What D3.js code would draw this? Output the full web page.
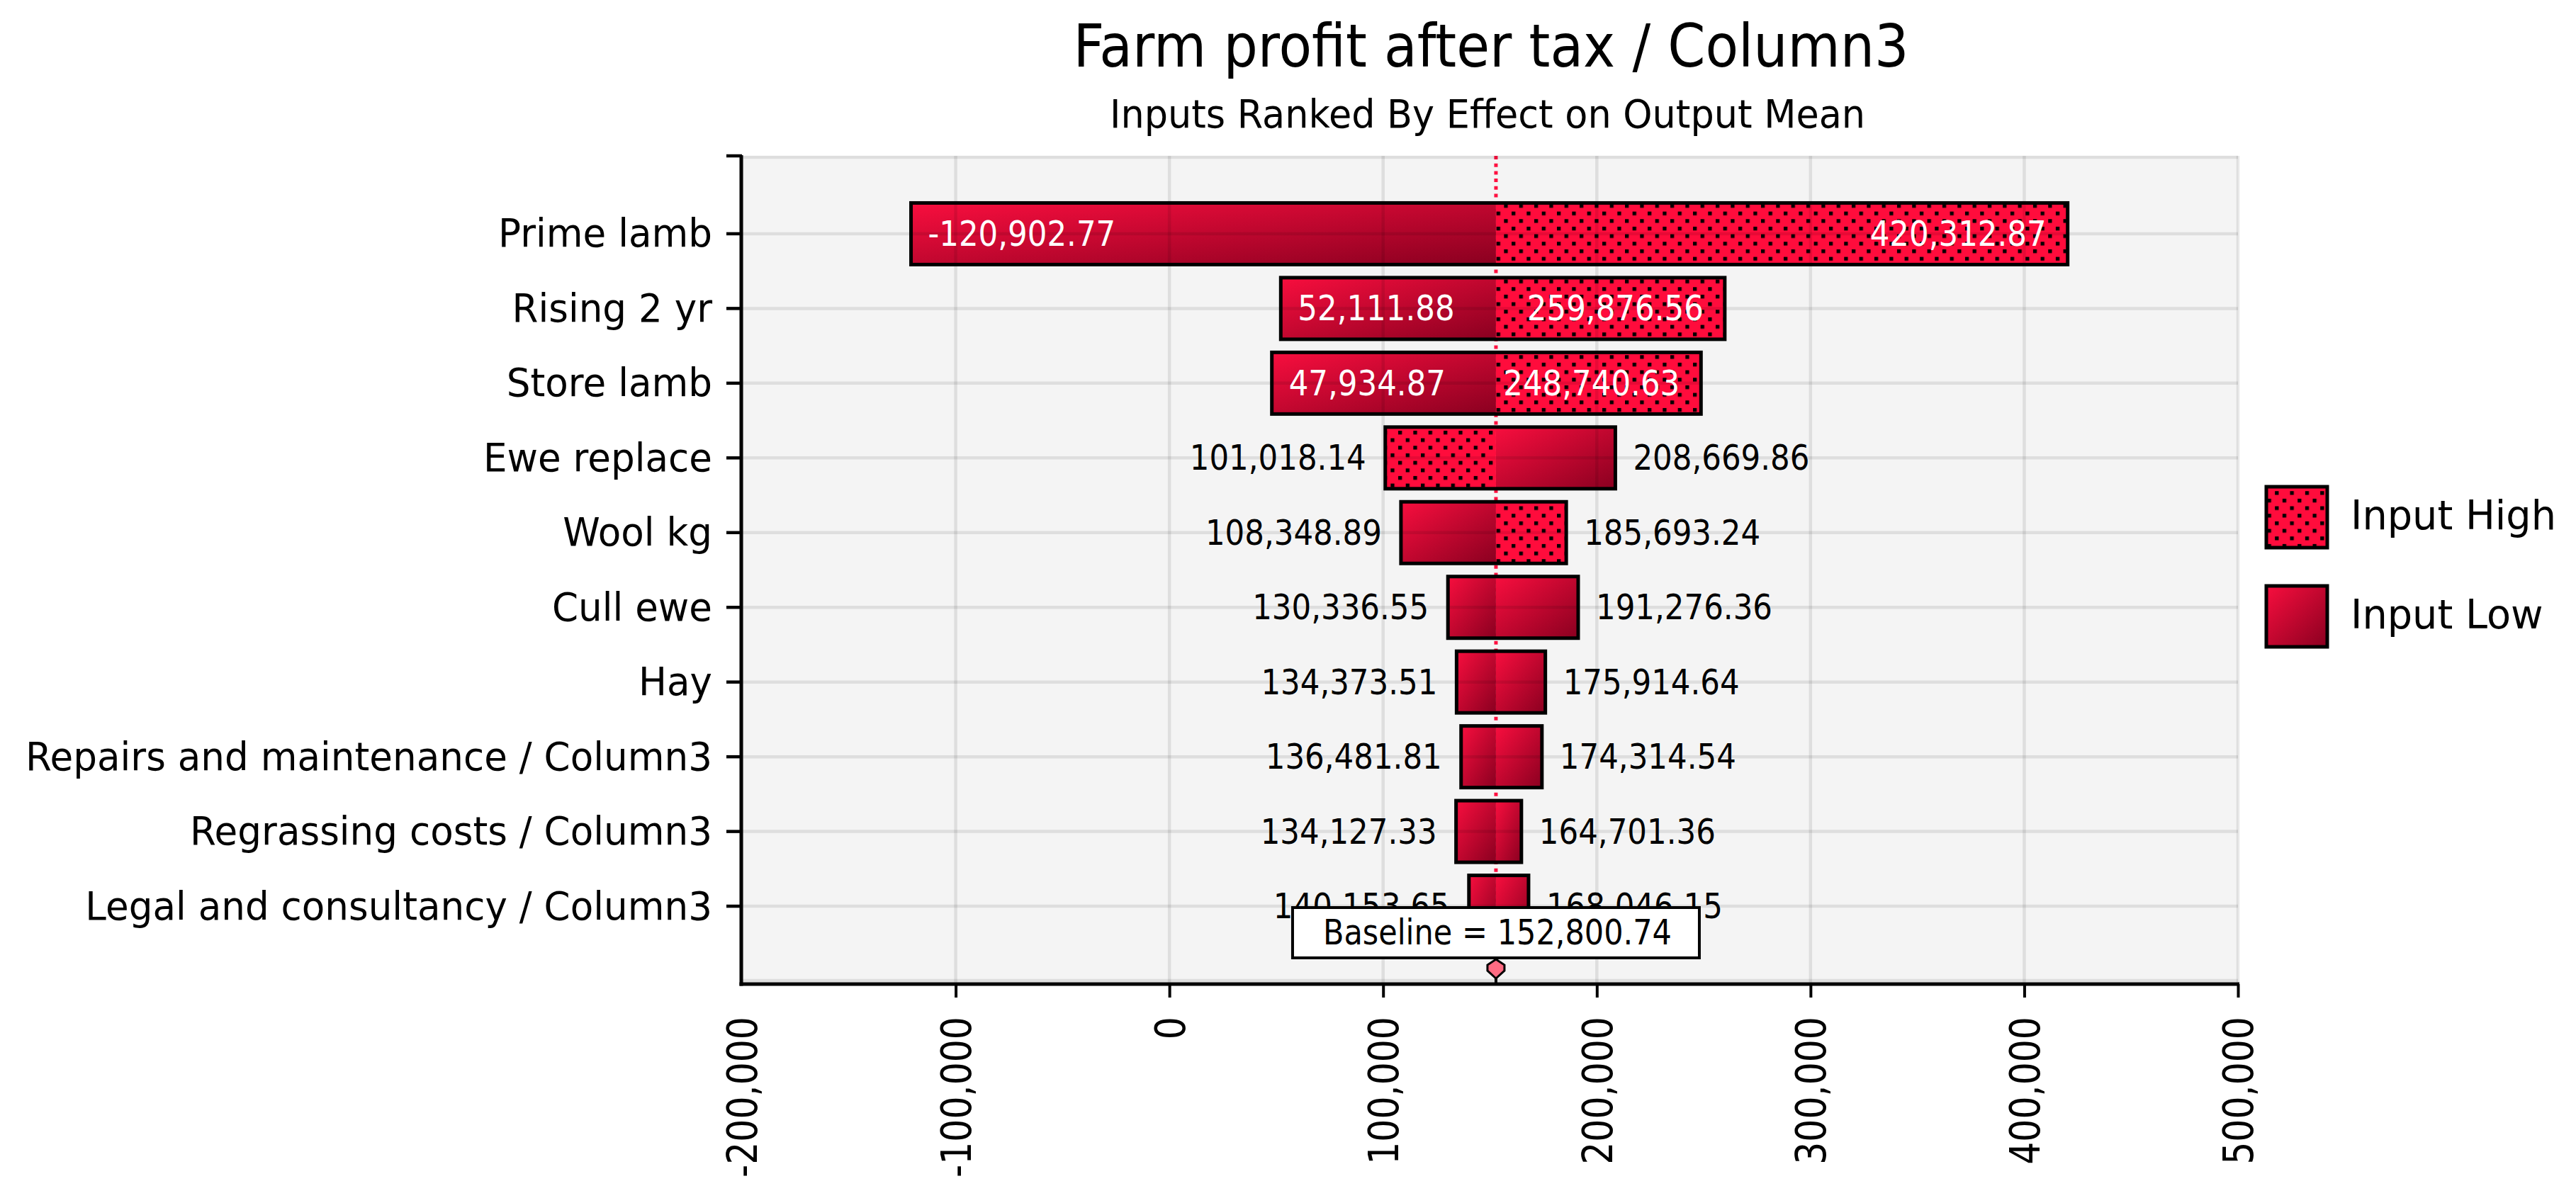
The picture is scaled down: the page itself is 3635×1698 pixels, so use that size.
<!DOCTYPE html>
<html><head><meta charset="utf-8">
<script src="https://cdn.jsdelivr.net/npm/d3@7"></script>
<style>html,body{margin:0;padding:0;background:#fff;} svg{display:block;}</style>
</head><body>
<svg id="chart" width="3635" height="1698"></svg>
<script>
// ---------------- data ----------------
const categories = ["Prime lamb","Rising 2 yr","Store lamb","Ewe replace","Wool kg","Cull ewe","Hay",
  "Repairs and maintenance / Column3","Regrassing costs / Column3","Legal and consultancy / Column3"];
const leftValues  = [-120902.77, 52111.88, 47934.87, 101018.14, 108348.89, 130336.55, 134373.51, 136481.81, 134127.33, 140153.65];
const rightValues = [ 420312.87, 259876.56, 248740.63, 208669.86, 185693.24, 191276.36, 175914.64, 174314.54, 164701.36, 168046.15];
const dottedSide  = ["right","right","right","left","right","none","none","none","none","none"];
const baselineValue = 152800.74;
const xTicks = [-200000,-100000,0,100000,200000,300000,400000,500000];
const legendLabels = ["Input High","Input Low"];
const titleText = "Farm profit after tax / Column3";
const subtitleText = "Inputs Ranked By Effect on Output Mean";

// ---------------- layout ----------------
const FONT = "'DejaVu Sans', Verdana, sans-serif";
const L = 1047, R = 3158, T = 220, B = 1389;
const svg = d3.select("#chart");
const locale = d3.formatLocale({ decimal: ".", thousands: ",", grouping: [3], currency: ["$", ""], minus: "-" });
const fmt = locale.format(",.2f");
const fmtTick = locale.format(",");

const x = d3.scaleLinear().domain([-200000, 500000]).range([L, R]);
const y = d3.scaleBand().domain(categories).range([T, B]).paddingInner(0.175).paddingOuter(0.63);

function squeezeFactor(sample, size, target) {
  const t = svg.append("text").attr("font-family", FONT).attr("font-size", size).text(sample);
  const w = t.node().getComputedTextLength();
  t.remove();
  return target / w;
}
function squeeze(sel, k) {
  sel.each(function () {
    const w = this.getComputedTextLength();
    d3.select(this).attr("textLength", w * k).attr("lengthAdjust", "spacingAndGlyphs");
  });
}

// defs
const defs = svg.append("defs");
const pat = defs.append("pattern").attr("id", "dots").attr("patternUnits", "userSpaceOnUse")
  .attr("width", 21.33).attr("height", 21.33);
pat.append("rect").attr("width", 21.33).attr("height", 21.33).attr("fill", "#FF0C3C");
pat.append("rect").attr("x", 0).attr("y", 0).attr("width", 5.3).attr("height", 5.3).attr("fill", "#000");
pat.append("rect").attr("x", 10.67).attr("y", 10.67).attr("width", 5.3).attr("height", 5.3).attr("fill", "#000");
const grad = defs.append("linearGradient").attr("id", "lowGrad")
  .attr("x1", 0).attr("y1", 0).attr("x2", 1).attr("y2", 1);
grad.append("stop").attr("offset", "0%").attr("stop-color", "#F80E3E");
grad.append("stop").attr("offset", "100%").attr("stop-color", "#8A0020");

// plot background
svg.append("rect").attr("x", L).attr("y", T).attr("width", R - L).attr("height", B - T).attr("fill", "#F4F4F4");

// baseline dotted line
const bx = x(baselineValue);
svg.append("line").attr("x1", bx).attr("x2", bx).attr("y1", T).attr("y2", 1282)
  .attr("stroke", "#FF1040").attr("stroke-width", 5).attr("stroke-dasharray", "5,5.7");

// bars
const rows = categories.map((c, i) => ({ cat: c, lo: leftValues[i], hi: rightValues[i], dot: dottedSide[i] }));
const barG = svg.append("g");
rows.forEach(d => {
  const y0 = y(d.cat), h = y.bandwidth();
  barG.append("rect").attr("x", x(d.lo)).attr("y", y0).attr("width", bx - x(d.lo)).attr("height", h)
    .attr("fill", d.dot === "left" ? "url(#dots)" : "url(#lowGrad)");
  barG.append("rect").attr("x", bx).attr("y", y0).attr("width", x(d.hi) - bx).attr("height", h)
    .attr("fill", d.dot === "right" ? "url(#dots)" : "url(#lowGrad)");
});

// gridlines (translucent, over bars)
const gridG = svg.append("g").attr("stroke", "rgba(0,0,0,0.09)").attr("stroke-width", 4.5);
xTicks.forEach(v => gridG.append("line").attr("x1", x(v)).attr("x2", x(v)).attr("y1", T).attr("y2", B));
categories.forEach(c => gridG.append("line").attr("x1", L).attr("x2", R)
  .attr("y1", y(c) + y.bandwidth() / 2).attr("y2", y(c) + y.bandwidth() / 2));
gridG.append("line").attr("x1", L).attr("x2", R).attr("y1", T + 2).attr("y2", T + 2);
gridG.append("line").attr("x1", L).attr("x2", R).attr("y1", B - 5).attr("y2", B - 5);

// bar outlines
rows.forEach(d => {
  barG.append("rect").attr("x", x(d.lo)).attr("y", y(d.cat)).attr("width", x(d.hi) - x(d.lo))
    .attr("height", y.bandwidth()).attr("fill", "none").attr("stroke", "#000").attr("stroke-width", 5);
});

// value labels
const VAL_SIZE = 49;
const kVal = squeezeFactor("208,669.86", VAL_SIZE, 249);
const labG = svg.append("g").attr("font-family", FONT).attr("font-size", VAL_SIZE);
rows.forEach(d => {
  const cy = y(d.cat) + y.bandwidth() / 2 + 17;
  let t = labG.append("text").text(fmt(d.lo)).attr("y", cy);
  squeeze(t, kVal);
  let w = +t.attr("textLength");
  const segL = bx - x(d.lo);
  if (segL > w + 35) t.attr("x", x(d.lo) + 24).attr("text-anchor", "start").attr("fill", "#fff");
  else t.attr("x", x(d.lo) - 27).attr("text-anchor", "end").attr("fill", "#000");
  t = labG.append("text").text(fmt(d.hi)).attr("y", cy);
  squeeze(t, kVal);
  w = +t.attr("textLength");
  const segR = x(d.hi) - bx;
  if (segR > w + 35) t.attr("x", x(d.hi) - 30).attr("text-anchor", "end").attr("fill", "#fff");
  else t.attr("x", x(d.hi) + 25).attr("text-anchor", "start").attr("fill", "#000");
});

// y axis
const CAT_SIZE = 56;
const yAxis = svg.append("g").attr("transform", `translate(${L},0)`)
  .call(d3.axisLeft(y).tickSize(22).tickSizeOuter(0).tickPadding(20));
yAxis.select(".domain").remove();
yAxis.selectAll(".tick line").attr("stroke", "#000").attr("stroke-width", 4.5);
yAxis.selectAll(".tick text").attr("font-family", FONT).attr("font-size", CAT_SIZE).attr("fill", "#000").attr("dy", "0.33em");
squeeze(yAxis.selectAll(".tick text"), squeezeFactor("Repairs and maintenance / Column3", CAT_SIZE, 969));
svg.append("line").attr("x1", L - 22).attr("x2", L).attr("y1", T).attr("y2", T).attr("stroke", "#000").attr("stroke-width", 4.5);

// x axis
const AX_SIZE = 58;
const xAxis = svg.append("g").attr("transform", `translate(0,${B})`)
  .call(d3.axisBottom(x).tickValues(xTicks).tickFormat(fmtTick).tickSize(19).tickSizeOuter(0));
xAxis.select(".domain").remove();
xAxis.selectAll(".tick line").attr("stroke", "#000").attr("stroke-width", 4)
  .attr("display", d => d === xTicks[0] ? "none" : null);
xAxis.selectAll(".tick text").attr("font-family", FONT).attr("font-size", AX_SIZE).attr("fill", "#000")
  .attr("transform", "rotate(-90)").attr("text-anchor", "end").attr("x", -46).attr("y", 0).attr("dy", "0.36em");
squeeze(xAxis.selectAll(".tick text"), squeezeFactor("-200,000", AX_SIZE, 227));

// axis lines
svg.append("line").attr("x1", L - 1).attr("x2", L - 1).attr("y1", T - 1).attr("y2", B + 2.5).attr("stroke", "#000").attr("stroke-width", 5);
svg.append("line").attr("x1", L - 3.5).attr("x2", R + 2).attr("y1", B).attr("y2", B).attr("stroke", "#000").attr("stroke-width", 5);

// baseline box + marker
const BL_SIZE = 49;
svg.append("rect").attr("x", bx - 287).attr("y", 1281).attr("width", 574).attr("height", 71)
  .attr("fill", "#fff").attr("stroke", "#000").attr("stroke-width", 4);
const blt = svg.append("text").attr("x", bx + 2).attr("y", 1333).attr("text-anchor", "middle")
  .attr("font-family", FONT).attr("font-size", BL_SIZE).attr("fill", "#000")
  .text("Baseline = " + fmt(baselineValue));
squeeze(blt, squeezeFactor("Baseline = 152,800.74", BL_SIZE, 492));
svg.append("line").attr("x1", bx).attr("x2", bx).attr("y1", 1375).attr("y2", B).attr("stroke", "#000").attr("stroke-width", 4);
svg.append("path").attr("transform", `translate(${bx},${B})`)
  .attr("d", "M0,-35 L12,-27 L12,-19 L0,-8 L-12,-19 L-12,-27 Z")
  .attr("fill", "#FF6B82").attr("stroke", "#000").attr("stroke-width", 3);

// legend
const LEG_SIZE = 57;
const kLeg = squeezeFactor("Input High", LEG_SIZE, 290);
const legG = svg.append("g");
legendLabels.forEach((lab, i) => {
  const ly = 687 + i * 140;
  legG.append("rect").attr("x", 3198).attr("y", ly).attr("width", 86).attr("height", 86)
    .attr("fill", i === 0 ? "url(#dots)" : "url(#lowGrad)").attr("stroke", "#000").attr("stroke-width", 5);
  const t = legG.append("text").attr("x", 3317).attr("y", ly + 60).attr("font-family", FONT)
    .attr("font-size", LEG_SIZE).attr("fill", "#000").text(lab);
  squeeze(t, kLeg);
});

// titles
const TI_SIZE = 84, ST_SIZE = 56;
const ti = svg.append("text").attr("x", 2104).attr("y", 94).attr("text-anchor", "middle")
  .attr("font-family", FONT).attr("font-size", TI_SIZE).attr("fill", "#000").text(titleText);
squeeze(ti, squeezeFactor(titleText, TI_SIZE, 1179));
const st = svg.append("text").attr("x", 2099).attr("y", 180).attr("text-anchor", "middle")
  .attr("font-family", FONT).attr("font-size", ST_SIZE).attr("fill", "#000").text(subtitleText);
squeeze(st, squeezeFactor(subtitleText, ST_SIZE, 1066));
</script>
</body></html>
